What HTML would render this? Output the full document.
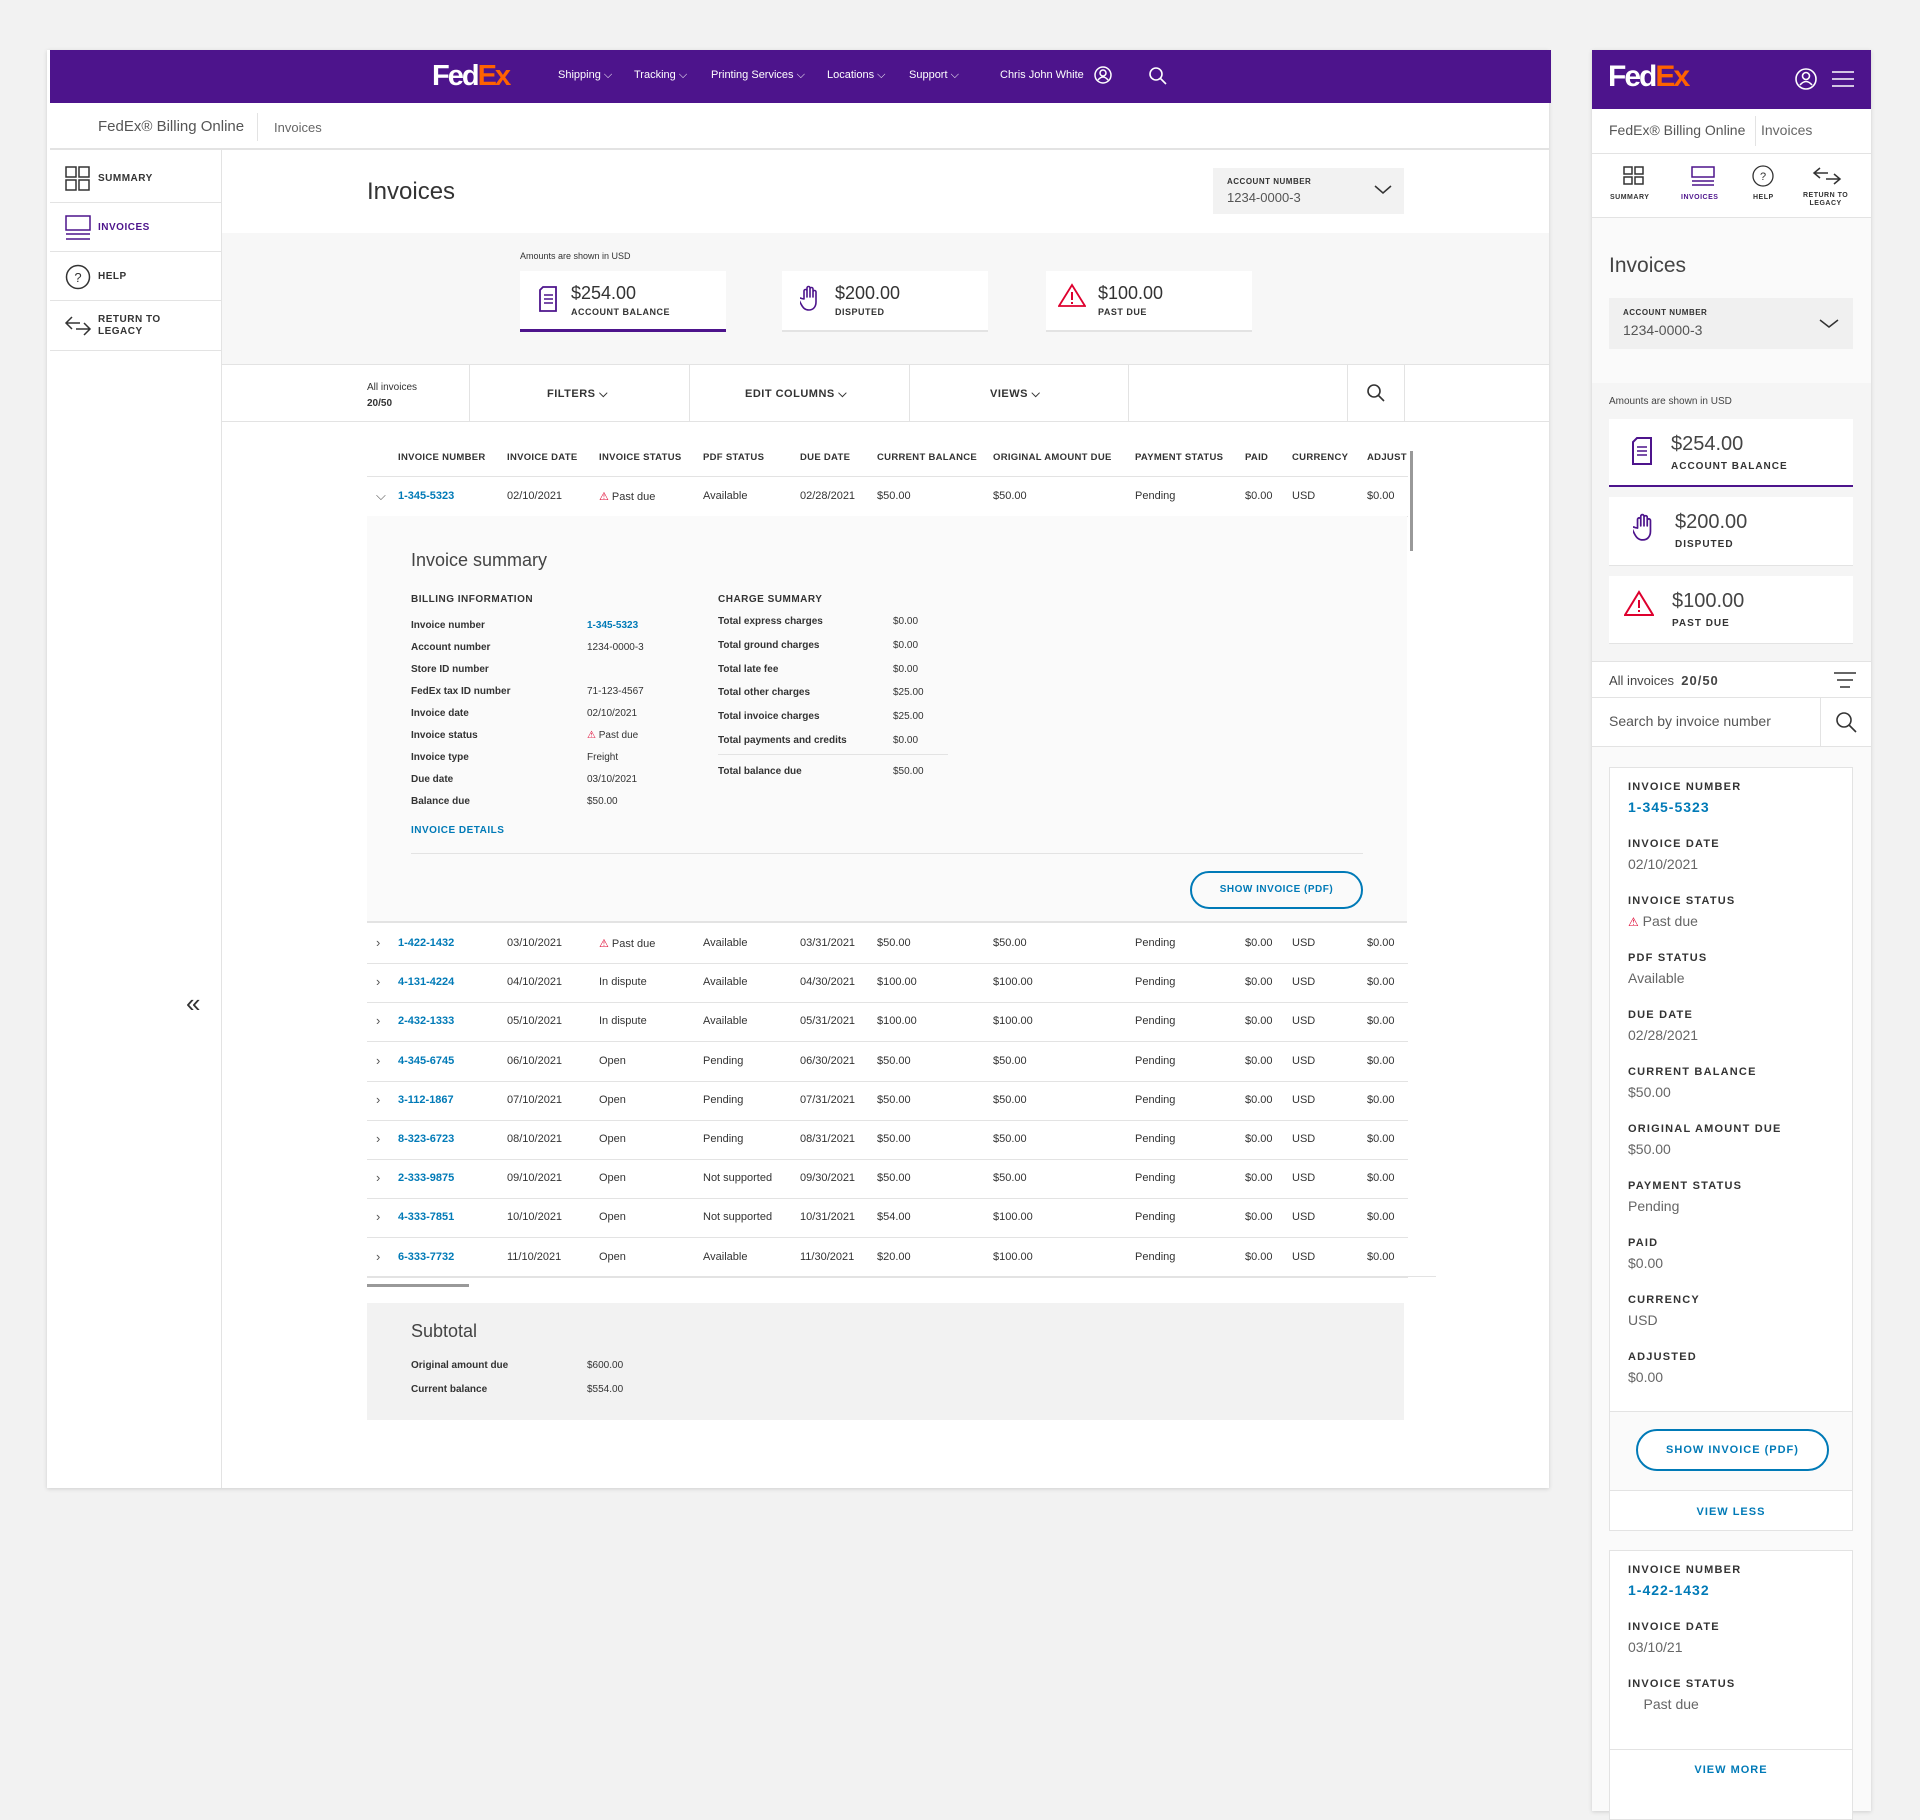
<!DOCTYPE html>
<html><head><meta charset="utf-8"><style>
*{box-sizing:border-box;margin:0;padding:0}
body{width:1920px;height:1811px;background:#f2f2f2;font-family:"Liberation Sans",sans-serif;color:#333;position:relative;overflow:hidden}
.a{position:absolute;white-space:nowrap}
.lbl{font-size:10px;font-weight:bold;letter-spacing:.5px;text-transform:uppercase;color:#333}
.t{font-size:11px;color:#333}
.lnk{color:#007ab7;font-weight:bold}
.hl{position:absolute;height:1px;background:#e3e3e3}
.vl{position:absolute;width:1px;background:#e3e3e3}
.tri{color:#de002e}
</style></head><body>
<!-- DESKTOP -->
<div class="a" style="left:47px;top:50px;width:1502px;height:1438px;background:#fff;box-shadow:0 1px 4px rgba(0,0,0,.15)"></div>
<div class="a" style="left:50px;top:50px;width:1501px;height:53px;background:#4d148c"></div>
<div class="a" style="left:432px;top:60px;font-size:29px;font-weight:bold;letter-spacing:-2px;color:#fff">Fed<span style="color:#ff6200">Ex</span><span style="color:#ff6200;font-size:8px">.</span></div>
<div class="a" style="left:558px;top:69px;font-size:11px;color:#fff">Shipping ⌵</div>
<div class="a" style="left:634px;top:69px;font-size:11px;color:#fff">Tracking ⌵</div>
<div class="a" style="left:711px;top:69px;font-size:11px;color:#fff">Printing Services ⌵</div>
<div class="a" style="left:827px;top:69px;font-size:11px;color:#fff">Locations ⌵</div>
<div class="a" style="left:909px;top:69px;font-size:11px;color:#fff">Support ⌵</div>
<div class="a" style="left:1000px;top:69px;font-size:11px;color:#fff">Chris John White</div>
<svg class="a" style="left:1094px;top:66px" width="18" height="18"><circle cx="9" cy="9" r="8" fill="none" stroke="#fff" stroke-width="1.5"/><circle cx="9" cy="7" r="3" fill="none" stroke="#fff" stroke-width="1.5"/><path d="M4 14q5-6 10 0" fill="none" stroke="#fff" stroke-width="1.5"/></svg>
<svg class="a" style="left:1148px;top:66px" width="20" height="20"><circle cx="8" cy="8" r="6" fill="none" stroke="#fff" stroke-width="1.6"/><path d="M12.5 12.5L18 18" stroke="#fff" stroke-width="1.6"/></svg>

<div class="a" style="left:98px;top:118px;font-size:15px;color:#555">FedEx® Billing Online</div>
<div class="vl" style="left:257px;top:113px;height:28px"></div>
<div class="a" style="left:274px;top:120px;font-size:13px;color:#666">Invoices</div>
<div class="hl" style="left:50px;top:148px;width:1499px;height:2px"></div>

<div class="vl" style="left:221px;top:150px;height:1338px"></div>
<div>
<svg class="a" style="left:65px;top:166px" width="26" height="26"><rect x="1" y="1" width="10" height="10" fill="none" stroke="#333" stroke-width="1.5"/><rect x="14" y="1" width="10" height="10" fill="none" stroke="#333" stroke-width="1.5"/><rect x="1" y="14" width="10" height="10" fill="none" stroke="#333" stroke-width="1.5"/><rect x="14" y="14" width="10" height="10" fill="none" stroke="#333" stroke-width="1.5"/></svg>
<div class="a lbl" style="left:98px;top:173px">Summary</div></div>
<div class="hl" style="left:50px;top:202px;width:171px"></div>
<div>
<svg class="a" style="left:65px;top:215px" width="26" height="26"><rect x="1" y="1" width="24" height="14" fill="none" stroke="#4d148c" stroke-width="1.5"/><path d="M1 19h24M1 24h24" stroke="#4d148c" stroke-width="1.5"/></svg>
<div class="a lbl" style="left:98px;top:222px;color:#4d148c">Invoices</div></div>
<div class="hl" style="left:50px;top:251px;width:171px"></div>
<div>
<svg class="a" style="left:65px;top:264px" width="26" height="26"><circle cx="13" cy="13" r="11.5" fill="none" stroke="#333" stroke-width="1.5"/><text x="13" y="18" font-size="13" text-anchor="middle" fill="#333" font-family="Liberation Sans">?</text></svg>
<div class="a lbl" style="left:98px;top:271px">Help</div></div>
<div class="hl" style="left:50px;top:300px;width:171px"></div>
<div>
<svg class="a" style="left:64px;top:314px" width="28" height="24"><path d="M8 3L2 9l6 6M2 9h14M20 9l6 6-6 6M26 15H12" fill="none" stroke="#333" stroke-width="1.5"/></svg>
<div class="a lbl" style="left:98px;top:314px;line-height:12px">Return to<br>legacy</div></div>
<div class="hl" style="left:50px;top:350px;width:171px"></div>
<div class="a" style="left:186px;top:988px;font-size:26px;color:#333">«</div>

<div class="a" style="left:367px;top:178px;font-size:24px;color:#333;font-weight:300">Invoices</div>
<div class="a" style="left:1213px;top:168px;width:191px;height:46px;background:#f2f2f2">
<div class="a lbl" style="left:14px;top:9px;font-size:8px">Account number</div>
<div class="a" style="left:14px;top:22px;font-size:13px;color:#555">1234-0000-3</div>
<svg class="a" style="left:161px;top:17px" width="18" height="10"><path d="M1 1l8 7 8-7" fill="none" stroke="#333" stroke-width="1.5"/></svg></div>

<div class="a" style="left:222px;top:233px;width:1327px;height:131px;background:#f7f7f7"></div>
<div class="a" style="left:520px;top:251px;font-size:9px;color:#333">Amounts are shown in USD</div>
<div class="a" style="left:520px;top:271px;width:206px;height:61px;background:#fff;border-bottom:3px solid #4d148c">
<svg class="a" style="left:18px;top:15px" width="20" height="26"><path d="M5 1h13v24H2V4z" fill="none" stroke="#4d148c" stroke-width="1.8"/><path d="M6 9h9M6 13h9M6 17h9" stroke="#4d148c" stroke-width="1.5"/></svg>
<div class="a" style="left:51px;top:12px;font-size:18px;color:#333">$254.00</div>
<div class="a lbl" style="left:51px;top:36px;font-size:9px">Account balance</div></div>
<div class="a" style="left:782px;top:271px;width:206px;height:61px;background:#fff;border-bottom:2px solid #e3e3e3">
<svg class="a" style="left:18px;top:14px" width="20" height="26" viewBox="0 0 20 26"><path d="M4 14V6a1.5 1.5 0 013 0v6V3a1.5 1.5 0 013 0v9V4a1.5 1.5 0 013 0v8V7a1.5 1.5 0 013 0v10c0 5-3 8-7 8s-6-2-8-6l-2-4a1.5 1.5 0 012.5-1.5z" fill="none" stroke="#4d148c" stroke-width="1.6" stroke-linejoin="round"/></svg>
<div class="a" style="left:53px;top:12px;font-size:18px;color:#333">$200.00</div>
<div class="a lbl" style="left:53px;top:36px;font-size:9px">Disputed</div></div>
<div class="a" style="left:1046px;top:271px;width:206px;height:61px;background:#fff;border-bottom:2px solid #e3e3e3">
<svg class="a" style="left:12px;top:12px" width="28" height="24"><path d="M14 2L27 23H1z" fill="none" stroke="#de002e" stroke-width="1.8"/><path d="M14 9v8M14 19v2" stroke="#de002e" stroke-width="2"/></svg>
<div class="a" style="left:52px;top:12px;font-size:18px;color:#333">$100.00</div>
<div class="a lbl" style="left:52px;top:36px;font-size:9px">Past due</div></div>

<div class="hl" style="left:222px;top:364px;width:1327px"></div>
<div class="hl" style="left:222px;top:421px;width:1327px"></div>
<div>
<div class="a t" style="left:367px;top:380px;font-size:10px;line-height:16px">All invoices<br><b>20/50</b></div>
<div class="vl" style="left:469px;top:364px;height:57px"></div>
<div class="a lbl" style="left:547px;top:388px;font-size:11px">Filters ⌵</div>
<div class="vl" style="left:689px;top:364px;height:57px"></div>
<div class="a lbl" style="left:745px;top:388px;font-size:11px">Edit columns ⌵</div>
<div class="vl" style="left:909px;top:364px;height:57px"></div>
<div class="a lbl" style="left:990px;top:388px;font-size:11px">Views ⌵</div>
<div class="vl" style="left:1128px;top:364px;height:57px"></div>
<div class="vl" style="left:1347px;top:364px;height:57px"></div>
<svg class="a" style="left:1366px;top:383px" width="20" height="20"><circle cx="8" cy="8" r="6" fill="none" stroke="#333" stroke-width="1.6"/><path d="M12.5 12.5L18 18" stroke="#333" stroke-width="1.6"/></svg>
<div class="vl" style="left:1404px;top:364px;height:57px"></div>
</div>

<div id="thead"></div>
<div id="rows"></div>
<div class="a" style="left:1410px;top:451px;width:3px;height:100px;background:#999"></div>

<div class="a" style="left:367px;top:516px;width:1040px;height:407px;background:#fafafa;border-bottom:2px solid #e3e3e3">
<div class="a" style="left:44px;top:34px;font-size:18px;color:#444">Invoice summary</div>
<div class="a lbl" style="left:44px;top:78px;font-size:10px">Billing information</div>
<div id="bill"></div>
<div class="a lbl" style="left:351px;top:78px;font-size:10px">Charge summary</div>
<div id="chg"></div>
<div class="hl" style="left:351px;top:238px;width:230px"></div>
<div class="a t" style="left:351px;top:250px;font-weight:bold;font-size:10px">Total balance due</div>
<div class="a t" style="left:526px;top:250px;font-size:10px">$50.00</div>
<div class="a lbl lnk" style="left:44px;top:309px;font-size:10px">Invoice details</div>
<div class="hl" style="left:44px;top:337px;width:952px"></div>
<div class="a lbl lnk" style="left:823px;top:355px;width:173px;height:38px;border:2px solid #007ab7;border-radius:20px;text-align:center;line-height:34px;font-size:10px">Show invoice (PDF)</div>
</div>
<div class="hl" style="left:367px;top:1276px;width:1069px"></div>
<div class="a" style="left:367px;top:1284px;width:102px;height:3px;background:#999"></div>

<div class="a" style="left:367px;top:1303px;width:1037px;height:117px;background:#f2f2f2">
<div class="a" style="left:44px;top:18px;font-size:18px;color:#444">Subtotal</div>
<div class="a t" style="left:44px;top:57px;font-weight:bold;font-size:10px">Original amount due</div>
<div class="a t" style="left:220px;top:57px;font-size:10px">$600.00</div>
<div class="a t" style="left:44px;top:81px;font-weight:bold;font-size:10px">Current balance</div>
<div class="a t" style="left:220px;top:81px;font-size:10px">$554.00</div>
</div>

<!-- MOBILE -->
<div class="a" style="left:1592px;top:50px;width:279px;height:1761px;background:#fafafa;box-shadow:0 1px 4px rgba(0,0,0,.15)"></div>
<div class="a" style="left:1592px;top:50px;width:279px;height:59px;background:#4d148c">
<div class="a" style="left:16px;top:10px;font-size:30px;font-weight:bold;letter-spacing:-2px;color:#fff">Fed<span style="color:#ff6200">Ex</span><span style="color:#ff6200;font-size:8px">.</span></div>
<svg class="a" style="left:203px;top:18px" width="22" height="22"><circle cx="11" cy="11" r="10" fill="none" stroke="#fff" stroke-width="1.6"/><circle cx="11" cy="8" r="3.5" fill="none" stroke="#fff" stroke-width="1.6"/><path d="M5 17q6-7 12 0" fill="none" stroke="#fff" stroke-width="1.6"/></svg>
<svg class="a" style="left:240px;top:20px" width="22" height="18"><path d="M0 2h22M0 9h22M0 16h22" stroke="#fff" stroke-width="1.6"/></svg></div>
<div class="a" style="left:1592px;top:109px;width:279px;height:44px;background:#fff"></div>
<div class="a" style="left:1609px;top:122px;font-size:14px;color:#555">FedEx® Billing Online</div>
<div class="vl" style="left:1755px;top:116px;height:30px"></div>
<div class="a" style="left:1761px;top:122px;font-size:14px;color:#666">Invoices</div>
<div class="hl" style="left:1592px;top:153px;width:279px"></div>
<div class="a" style="left:1592px;top:154px;width:279px;height:64px;background:#fff;border-bottom:1px solid #e3e3e3">
<svg class="a" style="left:31px;top:12px" width="22" height="20"><rect x="1" y="1" width="8" height="7" fill="none" stroke="#333" stroke-width="1.5"/><rect x="12" y="1" width="8" height="7" fill="none" stroke="#333" stroke-width="1.5"/><rect x="1" y="11" width="8" height="7" fill="none" stroke="#333" stroke-width="1.5"/><rect x="12" y="11" width="8" height="7" fill="none" stroke="#333" stroke-width="1.5"/></svg>
<div class="a lbl" style="left:18px;top:40px;font-size:7px">Summary</div>
<svg class="a" style="left:99px;top:12px" width="24" height="20"><rect x="1" y="1" width="22" height="10" fill="none" stroke="#4d148c" stroke-width="1.5"/><path d="M1 15h22M1 19h22" stroke="#4d148c" stroke-width="1.5"/></svg>
<div class="a lbl" style="left:89px;top:40px;font-size:7px;color:#4d148c">Invoices</div>
<svg class="a" style="left:160px;top:11px" width="22" height="22"><circle cx="11" cy="11" r="10" fill="none" stroke="#333" stroke-width="1.3"/><text x="11" y="15" font-size="11" text-anchor="middle" fill="#333" font-family="Liberation Sans">?</text></svg>
<div class="a lbl" style="left:161px;top:40px;font-size:7px">Help</div>
<svg class="a" style="left:220px;top:11px" width="30" height="22"><path d="M8 3L2 8l6 5M2 8h14M22 9l6 5-6 5M28 14H14" fill="none" stroke="#333" stroke-width="1.5"/></svg>
<div class="a lbl" style="left:211px;top:38px;font-size:7px;text-align:center;line-height:8px">Return to<br>legacy</div></div>
<div class="a" style="left:1609px;top:254px;font-size:21px;color:#444">Invoices</div>
<div class="a" style="left:1609px;top:298px;width:244px;height:51px;background:#f0f0f0">
<div class="a lbl" style="left:14px;top:10px;font-size:8px">Account number</div>
<div class="a" style="left:14px;top:24px;font-size:14px;color:#555">1234-0000-3</div>
<svg class="a" style="left:210px;top:21px" width="20" height="10"><path d="M1 1l9 7 9-7" fill="none" stroke="#333" stroke-width="1.5"/></svg></div>
<div class="a" style="left:1592px;top:383px;width:279px;height:278px;background:#f5f5f5"></div>
<div class="a" style="left:1609px;top:396px;font-size:10px;color:#444">Amounts are shown in USD</div>
<div class="a" style="left:1609px;top:419px;width:244px;height:68px;background:#fff;border-bottom:2px solid #4d148c">
<svg class="a" style="left:22px;top:18px" width="22" height="28"><path d="M6 1h14v26H2V5z" fill="none" stroke="#4d148c" stroke-width="2"/><path d="M6 10h10M6 14h10M6 18h10" stroke="#4d148c" stroke-width="1.6"/></svg>
<div class="a" style="left:62px;top:14px;font-size:20px;color:#444">$254.00</div>
<div class="a lbl" style="left:62px;top:42px;font-size:10px;letter-spacing:1px">Account balance</div></div>
<div class="a" style="left:1609px;top:497px;width:244px;height:69px;background:#fff;border-bottom:1px solid #e3e3e3">
<svg class="a" style="left:24px;top:16px" width="22" height="28" viewBox="0 0 20 26"><path d="M4 14V6a1.5 1.5 0 013 0v6V3a1.5 1.5 0 013 0v9V4a1.5 1.5 0 013 0v8V7a1.5 1.5 0 013 0v10c0 5-3 8-7 8s-6-2-8-6l-2-4a1.5 1.5 0 012.5-1.5z" fill="none" stroke="#4d148c" stroke-width="1.6" stroke-linejoin="round"/></svg>
<div class="a" style="left:66px;top:14px;font-size:20px;color:#444">$200.00</div>
<div class="a lbl" style="left:66px;top:42px;font-size:10px;letter-spacing:1px">Disputed</div></div>
<div class="a" style="left:1609px;top:576px;width:244px;height:68px;background:#fff;border-bottom:1px solid #e3e3e3">
<svg class="a" style="left:15px;top:14px" width="30" height="26"><path d="M15 2L29 25H1z" fill="none" stroke="#de002e" stroke-width="2"/><path d="M15 10v8M15 20v2" stroke="#de002e" stroke-width="2"/></svg>
<div class="a" style="left:63px;top:14px;font-size:20px;color:#444">$100.00</div>
<div class="a lbl" style="left:63px;top:42px;font-size:10px;letter-spacing:1px">Past due</div></div>
<div class="a" style="left:1592px;top:661px;width:279px;height:86px;background:#fff;border-top:1px solid #e3e3e3;border-bottom:1px solid #e3e3e3"></div>
<div class="a" style="left:1609px;top:673px;font-size:13px;color:#444">All invoices &nbsp;<b style="letter-spacing:1px">20/50</b></div>
<svg class="a" style="left:1834px;top:672px" width="22" height="16"><path d="M0 1h22M3 8h16M6 15h10" stroke="#333" stroke-width="1.5"/></svg>
<div class="hl" style="left:1592px;top:697px;width:279px"></div>
<div class="a" style="left:1609px;top:713px;font-size:14px;color:#555">Search by invoice number</div>
<div class="vl" style="left:1820px;top:698px;height:48px"></div>
<svg class="a" style="left:1835px;top:711px" width="22" height="22"><circle cx="9" cy="9" r="7" fill="none" stroke="#333" stroke-width="1.6"/><path d="M14 14l7 7" stroke="#333" stroke-width="1.6"/></svg>

<div class="a" style="left:1609px;top:767px;width:244px;height:764px;background:#fff;border:1px solid #e3e3e3"><div id="mc1"></div>
<div class="a" style="left:0;top:643px;width:242px;height:80px;background:#fafafa;border-top:1px solid #e3e3e3;border-bottom:1px solid #e3e3e3"></div>
<div class="a lbl lnk" style="left:26px;top:661px;width:193px;height:42px;border:2px solid #007ab7;border-radius:21px;text-align:center;line-height:38px;font-size:11px;letter-spacing:1px;background:#fff">Show invoice (PDF)</div>
<div class="a lbl lnk" style="left:0;top:738px;width:242px;text-align:center;font-size:11px;letter-spacing:1px">View less</div></div>
<div class="a" style="left:1609px;top:1550px;width:244px;height:270px;background:#fff;border:1px solid #e3e3e3"><div id="mc2"></div>
<div class="hl" style="left:0;top:198px;width:242px"></div>
<div class="a lbl lnk" style="left:0;top:213px;width:242px;text-align:center;font-size:11px;letter-spacing:1px">View more</div></div>

<script>
const cols=["Invoice number","Invoice date","Invoice status","PDF status","Due date","Current balance","Original amount due","Payment status","Paid","Currency","Adjust"];
const colX=[398,507,599,703,800,877,993,1135,1245,1292,1367];
const invNums=["1-345-5323","1-422-1432","4-131-4224","2-432-1333","4-345-6745","3-112-1867","8-323-6723","2-333-9875","4-333-7851","6-333-7732"];
const invDates=["02/10/2021","03/10/2021","04/10/2021","05/10/2021","06/10/2021","07/10/2021","08/10/2021","09/10/2021","10/10/2021","11/10/2021"];
const invStatus=["Past due","Past due","In dispute","In dispute","Open","Open","Open","Open","Open","Open"];
const pdfStatus=["Available","Available","Available","Available","Pending","Pending","Pending","Not supported","Not supported","Available"];
const dueDates=["02/28/2021","03/31/2021","04/30/2021","05/31/2021","06/30/2021","07/31/2021","08/31/2021","09/30/2021","10/31/2021","11/30/2021"];
const curBal=["$50.00","$50.00","$100.00","$100.00","$50.00","$50.00","$50.00","$50.00","$54.00","$20.00"];
const origDue=["$50.00","$50.00","$100.00","$100.00","$50.00","$50.00","$50.00","$50.00","$100.00","$100.00"];
const billLabels=["Invoice number","Account number","Store ID number","FedEx tax ID number","Invoice date","Invoice status","Invoice type","Due date","Balance due"];
const billValues=["1-345-5323","1234-0000-3","","71-123-4567","02/10/2021","Past due","Freight","03/10/2021","$50.00"];
const chgLabels=["Total express charges","Total ground charges","Total late fee","Total other charges","Total invoice charges","Total payments and credits"];
const chgValues=["$0.00","$0.00","$0.00","$25.00","$25.00","$0.00"];
const m1Labels=["Invoice number","Invoice date","Invoice status","PDF status","Due date","Current balance","Original amount due","Payment status","Paid","Currency","Adjusted"];
const m1Values=["1-345-5323","02/10/2021","Past due","Available","02/28/2021","$50.00","$50.00","Pending","$0.00","USD","$0.00"];
const m2Labels=["Invoice number","Invoice date","Invoice status"];
const m2Values=["1-422-1432","03/10/21","Past due"];

function mk(parent,cls,css,html){const d=document.createElement('div');d.className=cls;d.style.cssText=css;d.innerHTML=html;parent.appendChild(d);return d;}
const th=document.getElementById('thead');
cols.forEach((c,i)=>{const d=mk(th,'a lbl',`left:${colX[i]}px;top:452px;font-size:9.5px;letter-spacing:.3px`,c);

});
mk(th,'hl','left:367px;top:476px;width:1041px','');
const rows=document.getElementById('rows');
function rowY(i){return i===0?497:944+(i-1)*39.2;}
invNums.forEach((n,i)=>{
  const y=rowY(i)-7;
  const g=document.createElement('div');
  
  
  rows.appendChild(g);
  const st=invStatus[i]==="Past due"?'<span class="tri">⚠</span> Past due':invStatus[i];
  const vals=['<span class="lnk">'+n+'</span>',invDates[i],st,pdfStatus[i],dueDates[i],curBal[i],origDue[i],"Pending","$0.00","USD","$0.00"];
  mk(g,'a t',`left:376px;top:${y-2}px;font-size:13px;color:#555`,i===0?'⌵':'›');
  vals.forEach((v,j)=>mk(g,'a t',`left:${colX[j]}px;top:${y}px`,v));
  if(i>0) mk(g,'hl',`left:367px;top:${rowY(i)+19}px;width:1041px`,'');
  else mk(g,'hl',`left:367px;top:516px;width:1041px`,'');
});
const bill=document.getElementById('bill');
billLabels.forEach((l,i)=>{const y=104+i*22;
  mk(bill,'a t',`left:44px;top:${y}px;font-weight:bold;font-size:10px`,l);
  let v=billValues[i]; if(i===0)v='<span class="lnk">'+v+'</span>'; if(i===5)v='<span class="tri">⚠</span> '+v;
  mk(bill,'a t',`left:220px;top:${y}px;font-size:10px`,v);});
const chg=document.getElementById('chg');
chgLabels.forEach((l,i)=>{const y=100+i*23.8;
  mk(chg,'a t',`left:351px;top:${y}px;font-weight:bold;font-size:10px`,l);
  mk(chg,'a t',`left:526px;top:${y}px;font-size:10px`,chgValues[i]);});
function mcard(id,labels,values){const c=document.getElementById(id);
  labels.forEach((l,i)=>{const y=13+i*57;
    mk(c,'a lbl',`left:18px;top:${y}px;font-size:11px;letter-spacing:1.2px`,l);
    let v=values[i],css=`left:18px;top:${y+18}px;font-size:14px;color:#666`;
    if(i===0){css+=';color:#007ab7;font-weight:bold;letter-spacing:1px';}
    if(l==="Invoice status"){v=(id==='mc1'?'<span class="tri" style="font-size:12px">⚠</span> ':'&nbsp;&nbsp;&nbsp;&nbsp;')+v;}
    mk(c,'a',css,v);});}
mcard('mc1',m1Labels,m1Values);
mcard('mc2',m2Labels,m2Values);
</script>
</body></html>
